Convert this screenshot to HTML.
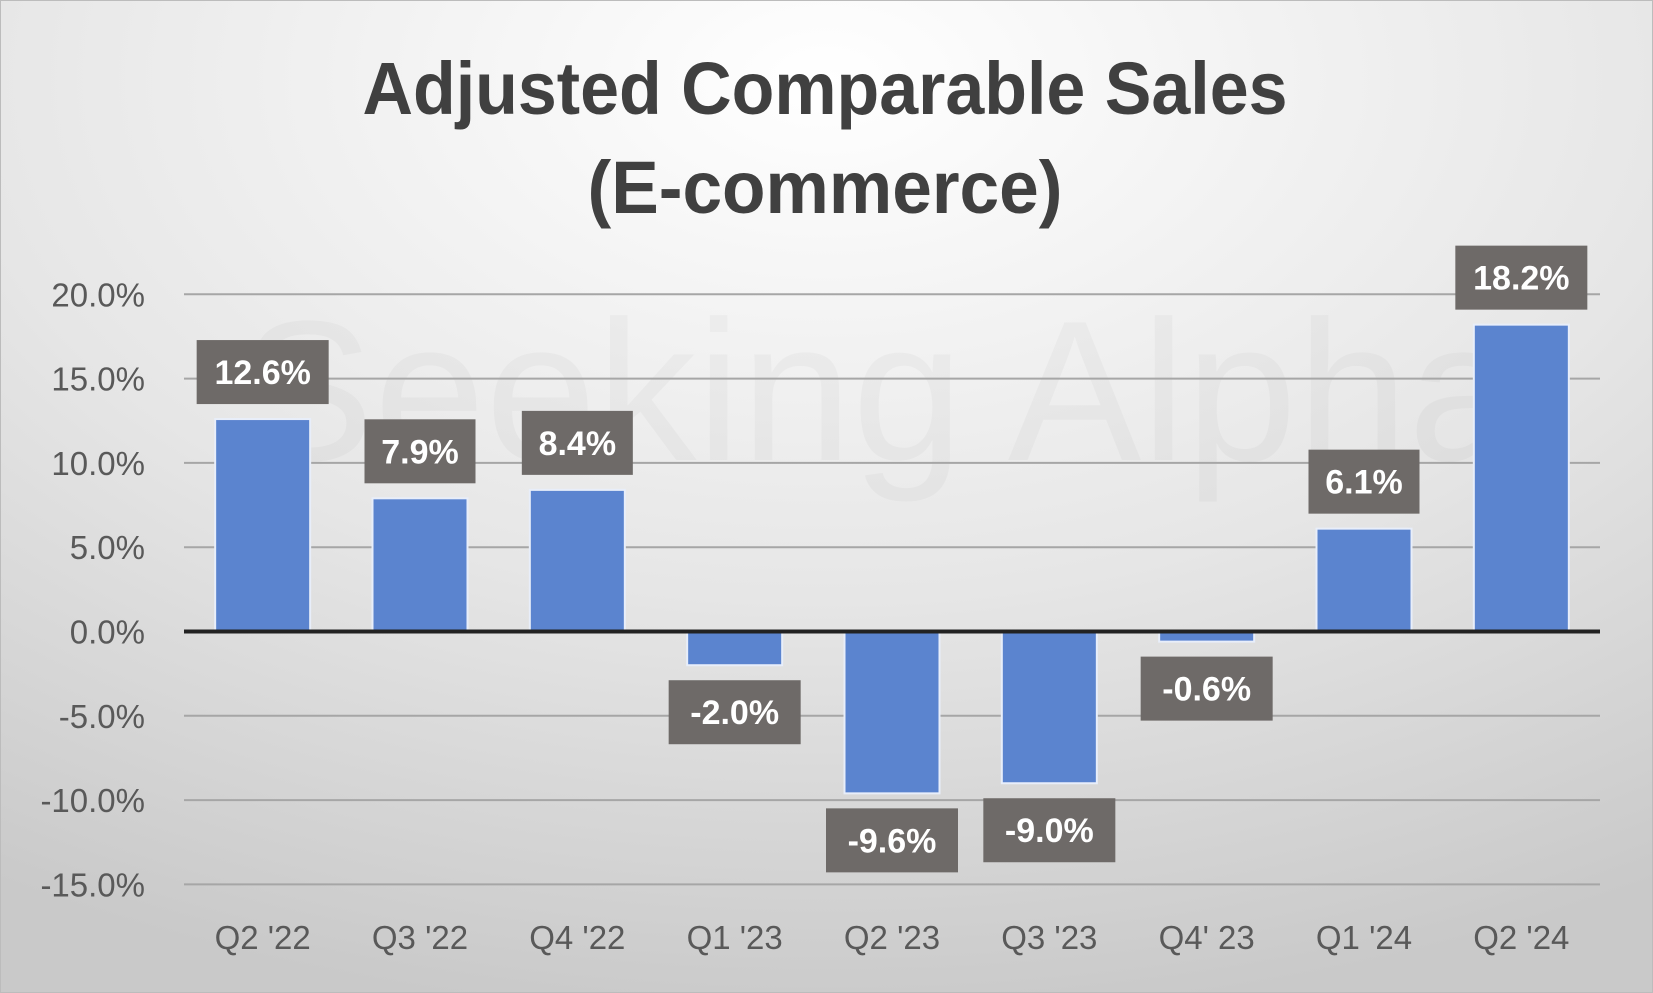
<!DOCTYPE html>
<html><head><meta charset="utf-8"><style>
html,body{margin:0;padding:0;}
body{width:1653px;height:993px;overflow:hidden;background:#ddd;}
svg{display:block;font-family:"Liberation Sans",sans-serif;}
</style></head><body>
<svg id="chart" width="1653" height="993" viewBox="0 0 1653 993">
<defs>
<radialGradient id="bg" cx="50%" cy="8%" r="95%">
<stop offset="0" stop-color="#ffffff"/><stop offset="0.55" stop-color="#e6e6e6"/><stop offset="1" stop-color="#c9c9c9"/>
</radialGradient>
</defs>
<rect x="0" y="0" width="1653" height="993" fill="url(#bg)" stroke="#bcbcbc" stroke-width="2"/>
<g font-weight="bold" fill="#404040" font-size="74" text-anchor="middle">
<text x="825" y="114" textLength="925" lengthAdjust="spacingAndGlyphs">Adjusted Comparable Sales</text>
<text x="825" y="213" textLength="475" lengthAdjust="spacingAndGlyphs">(E-commerce)</text>
</g>
<text x="880" y="460" font-size="200" fill="#000" opacity="0.025" text-anchor="middle">Seeking Alpha</text>
<g id="grid"></g><g id="bars"></g><g id="labels"></g><g id="axes"></g>
</svg>
<script>
const categories=["Q2 '22","Q3 '22","Q4 '22","Q1 '23","Q2 '23","Q3 '23","Q4' 23","Q1 '24","Q2 '24"];
const values=[12.6,7.9,8.4,-2.0,-9.6,-9.0,-0.6,6.1,18.2];
const valueLabels=["12.6%","7.9%","8.4%","-2.0%","-9.6%","-9.0%","-0.6%","6.1%","18.2%"];
const yTicks=[20,15,10,5,0,-5,-10,-15];
const yTickLabels=["20.0%","15.0%","10.0%","5.0%","0.0%","-5.0%","-10.0%","-15.0%"];
const NS="http://www.w3.org/2000/svg";
const plotL=184,plotR=1600,y0=631.5,pxPer=16.86;
const y=v=>y0-v*pxPer;
const step=(plotR-plotL)/categories.length;
const x=i=>plotL+step*(i+0.5);
const bw=95;
function mk(tag,attrs,parent){const e=document.createElementNS(NS,tag);for(const k in attrs)e.setAttribute(k,attrs[k]);parent.appendChild(e);return e;}
const grid=document.getElementById('grid'),bars=document.getElementById('bars'),labels=document.getElementById('labels'),axes=document.getElementById('axes');
yTicks.forEach((t,i)=>{
  if(t!==0){const l=mk('line',{x1:plotL,x2:plotR,y1:y(t),y2:y(t),stroke:'#a6a6a6','stroke-width':2},grid);
  
  }
  const tx=mk('text',{x:145,y:y(t)+12,'font-size':33,fill:'#595959','text-anchor':'end'},axes);
  tx.textContent=yTickLabels[i];
  
  
});
values.forEach((v,i)=>{
  const top=Math.min(y(v),y0),h=Math.abs(y(v)-y0);
  const r=mk('rect',{x:x(i)-bw/2,y:top,width:bw,height:h,fill:'#5b84cf',stroke:'#e8eefa','stroke-width':2},bars);
  
  
  const bh=64,bwid=valueLabels[i].length>4?132:111;
  const by=v>=0?y(v)-15-bh:y(v)+15;
  const g=mk('g',{},labels);
  
  
  mk('rect',{x:x(i)-bwid/2,y:by,width:bwid,height:bh,fill:'#6e6a68'},g);
  const t=mk('text',{x:x(i),y:by+bh/2+12,'font-size':34,'font-weight':'bold',fill:'#fff','text-anchor':'middle'},g);
  t.textContent=valueLabels[i];
  const c=mk('text',{x:x(i),y:949,'font-size':33,fill:'#595959','text-anchor':'middle'},axes);
  c.textContent=categories[i];
  
  
});
const z=mk('line',{x1:plotL,x2:plotR,y1:y0,y2:y0,stroke:'#222','stroke-width':4},axes);


</script>
</body></html>
